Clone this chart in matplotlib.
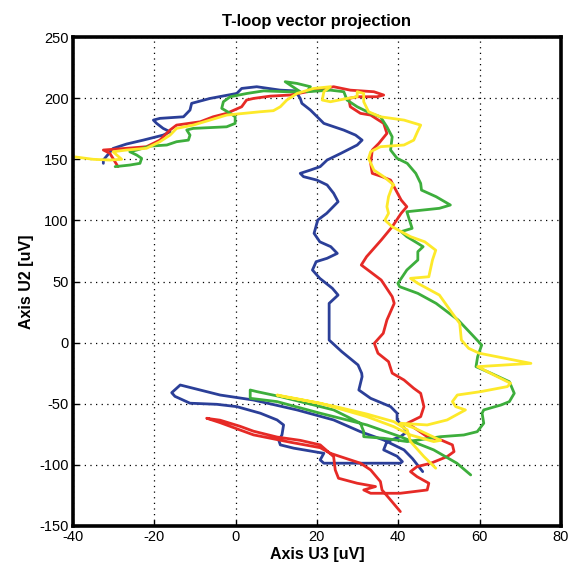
import matplotlib
matplotlib.use('Agg')
import matplotlib.pyplot as plt

# traces, in uV (U3 on x, U2 on y)
blue_x = [-32.5, -32.5, -30.1, -26.8, -22.7, -17.8, -16.1, -17.8, -19.4, -20.2, -18.6, -12.8,
          -11.2, -10.8, -6.3, 0.3, 1.5, 5.2, 11.0, 14.7, 15.9, 16.3, 18.4, 21.7, 26.6, 29.5,
          31.1, 29.9, 25.9, 22.5, 20.8, 18.4, 15.9, 16.7, 20.0, 22.5, 24.1, 25.2, 22.4, 20.2,
          19.3, 20.7, 23.4, 25.0, 22.5, 19.8, 18.9, 20.7, 23.8, 25.2, 23.0, 23.0, 23.0, 26.1,
          30.1, 31.0, 31.1, 30.3, 33.2, 38.1, 39.7, 39.7, 42.2, 40.5, 37.2, 36.4, 39.7, 41.0,
          40.5, 29.9, 21.7, 20.8, 21.7, 14.3, 11.0, 10.6, 11.4, 11.8, 10.2, 6.1, 0.3, -4.6,
          -11.2, -14.9, -15.7, -13.6, -3.8, 4.4, 15.1, 24.1, 30.7, 36.4, 41.4, 43.5, 46.0]
blue_y = [146.7, 149.4, 158.9, 162.5, 165.7, 169.8, 172.5, 175.3, 179.4, 182.1, 183.5, 184.8,
          190.3, 195.8, 199.8, 203.9, 208.0, 209.4, 206.6, 206.0, 199.8, 195.8, 190.3, 179.4,
          173.9, 169.8, 165.7, 161.7, 154.9, 149.4, 144.0, 141.2, 138.5, 135.8, 133.0, 129.0,
          122.2, 115.3, 105.8, 100.3, 89.4, 82.5, 78.5, 73.0, 69.0, 66.2, 59.4, 52.6, 44.4,
          38.9, 32.1, 21.2, 2.1, -7.4, -18.3, -25.1, -27.9, -38.8, -45.6, -52.4, -57.8, -63.3,
          -72.9, -77.0, -81.0, -87.8, -93.0, -97.4, -98.7, -98.7, -98.7, -96.0, -90.6, -86.4,
          -83.7, -79.7, -75.6, -67.4, -63.3, -57.8, -52.4, -50.5, -49.6, -44.0, -41.0, -34.7,
          -42.9, -47.0, -55.1, -63.3, -72.9, -79.7, -87.8, -95.0, -105.6]

red_x = [40.5, 38.1, 36.0, 35.6, 33.2, 30.7, 23.3, 20.8, 13.4, 4.4, 1.1, -3.8, -7.1, -6.0,
         -3.8, 1.1, 4.4, 10.2, 15.9, 20.8, 24.1, 24.5, 25.3, 29.9, 34.4, 31.5, 33.2, 40.5,
         47.1, 47.5, 44.6, 43.0, 44.6, 48.0, 52.0, 53.7, 53.3, 50.5, 47.1, 44.7, 42.2, 45.5,
         46.3, 45.5, 43.8, 41.4, 38.5, 37.6, 35.0, 34.1, 36.3, 37.2, 39.0, 38.5, 35.8, 33.1,
         30.9, 32.2, 35.8, 38.5, 40.7, 42.1, 40.7, 39.4, 38.1, 36.0, 33.6, 33.2, 33.6, 35.2,
         37.2, 36.4, 33.2, 30.7, 28.2, 27.8, 29.9, 34.8, 36.4, 34.0, 28.2, 24.1, 13.4, 8.5,
         4.4, 2.7, 1.5, -2.2, -5.5, -8.7, -14.5, -16.1, -18.6, -21.9, -26.8, -32.5, -30.9,
         -28.9]
red_y = [-138.3, -128.8, -120.6, -113.7, -104.2, -98.7, -90.6, -86.0, -81.5, -75.5, -71.5,
         -65.5, -61.9, -62.5, -63.5, -68.5, -72.5, -77.3, -80.0, -83.7, -93.3, -104.2, -111.0,
         -115.1, -117.8, -120.6, -123.3, -123.3, -120.6, -115.1, -109.7, -105.6, -101.5, -98.7,
         -93.3, -89.2, -83.7, -79.7, -77.0, -71.5, -66.0, -60.6, -52.4, -41.5, -37.4, -30.6,
         -25.0, -15.6, -8.7, -0.6, 7.6, 18.5, 32.1, 37.6, 51.2, 58.0, 63.5, 70.3, 83.9, 94.8,
         105.8, 111.2, 116.7, 124.8, 133.0, 135.8, 138.5, 146.7, 157.6, 163.0, 171.2, 179.4,
         186.2, 187.6, 193.0, 199.8, 201.2, 201.2, 202.6, 205.3, 206.6, 209.4, 202.6, 201.7,
         199.8, 198.5, 193.0, 187.6, 184.8, 180.7, 178.0, 174.0, 165.7, 160.3, 159.0, 157.6,
         154.9, 144.0]

green_x = [-29.6, -26.0, -23.5, -23.1, -24.3, -26.0, -24.3, -21.0, -16.9, -14.5, -11.6, -11.2,
           -12.0, -10.4, -2.2, -0.1, -0.1, -1.3, -3.4, -3.0, -1.3, 2.8, 6.9, 12.6, 15.9, 12.2,
           15.1, 18.4, 17.5, 23.3, 26.6, 27.4, 29.9, 33.2, 35.6, 37.2, 38.5, 38.1, 39.7, 42.2,
           44.3, 45.5, 45.7, 49.3, 52.8, 50.1, 42.1, 43.0, 43.4, 40.7, 42.1, 44.8, 46.1, 44.8,
           44.8, 42.1, 39.9, 40.3, 44.8, 49.3, 54.7, 58.2, 60.5, 59.5, 59.1, 62.8, 67.3, 68.5,
           67.3, 65.3, 61.0, 60.6, 61.0, 59.4, 56.1, 50.4, 42.2, 36.4, 31.5, 31.5, 30.7, 24.1,
           15.9, 11.0, 5.2, 3.6, 3.6, 10.2, 20.8, 32.3, 40.5, 48.7, 54.4, 57.8]
green_y = [144.0, 145.3, 146.7, 150.8, 153.5, 156.2, 157.6, 160.8, 161.7, 164.4, 165.7, 169.8,
           174.0, 175.3, 176.6, 179.4, 184.8, 187.6, 191.7, 197.1, 201.2, 203.9, 206.0, 205.3,
           205.3, 213.5, 212.1, 209.4, 205.3, 206.6, 205.3, 198.5, 193.0, 187.6, 184.8, 176.6,
           168.4, 157.6, 150.8, 146.7, 138.5, 130.3, 124.8, 119.4, 112.6, 109.9, 107.1, 97.6,
           93.5, 90.8, 86.7, 81.2, 78.5, 74.4, 67.6, 59.4, 48.5, 45.8, 40.3, 32.1, 18.5, 6.2,
           -2.0, -11.5, -19.7, -25.1, -32.0, -41.5, -48.3, -51.0, -55.1, -57.8, -66.0, -72.9,
           -75.6, -77.0, -81.0, -78.3, -77.0, -72.9, -66.0, -55.1, -48.3, -44.2, -40.1, -38.8,
           -45.6, -48.3, -57.8, -67.4, -77.0, -87.8, -98.7, -108.3]

yellow_x = [49.2, 46.3, 43.0, 42.2, 38.9, 32.3, 24.1, 15.9, 10.2, 11.8, 20.8, 32.3, 38.9, 43.0,
            48.7, 50.4, 44.0, 40.5, 47.1, 52.0, 56.5, 54.1, 53.3, 54.5, 60.3, 66.8, 67.6, 63.5,
            59.5, 72.6, 59.9, 57.3, 55.5, 55.1, 53.3, 50.1, 44.8, 43.0, 47.5, 48.4, 49.2, 46.5,
            43.0, 38.5, 36.7, 37.6, 37.2, 37.6, 38.5, 38.9, 36.4, 34.0, 32.7, 33.2, 35.6, 41.4,
            43.8, 44.7, 45.5, 41.4, 35.6, 32.7, 31.5, 31.5, 29.9, 29.9, 27.4, 23.3, 21.3, 21.7,
            23.3, 19.2, 15.1, 12.6, 11.0, 9.3, 6.0, -2.2, -6.3, -10.4, -14.5, -16.1, -18.6,
            -21.9, -26.8, -30.1, -29.2, -28.0, -30.9, -35.0, -40.0]
yellow_y = [-102.8, -93.3, -81.0, -71.5, -64.7, -58.5, -52.0, -46.5, -42.9, -44.2, -49.6, -60.6,
            -68.8, -75.6, -81.0, -80.0, -70.0, -66.0, -67.4, -63.3, -55.1, -52.4, -48.3, -42.9,
            -40.1, -36.0, -33.3, -26.5, -19.7, -17.0, -8.7, -4.7, 2.1, 15.7, 23.9, 38.9, 48.5,
            52.6, 53.9, 67.6, 75.6, 82.5, 86.7, 94.8, 100.3, 105.8, 111.2, 119.4, 127.6, 129.0,
            135.8, 141.2, 150.8, 156.2, 160.3, 161.7, 165.7, 172.5, 178.0, 182.1, 184.8, 188.9,
            197.1, 203.9, 205.3, 201.2, 199.8, 197.1, 198.5, 205.3, 209.4, 208.0, 203.9, 198.5,
            193.0, 189.8, 188.9, 186.2, 182.1, 178.0, 175.3, 169.8, 164.4, 159.0, 157.6, 156.2,
            153.5, 150.0, 149.4, 150.0, 152.2]

xticks = [-40, -20, 0, 20, 40, 60, 80]
yticks = [-150, -100, -50, 0, 50, 100, 150, 200, 250]

plt.rcParams['font.family'] = ['Liberation Sans', 'DejaVu Sans']
plt.rcParams['axes.unicode_minus'] = False

fig = plt.figure(figsize=(5.69, 5.71), dpi=100)
ax = fig.add_axes([0.128, 0.079, 0.858, 0.856])

lw = 2.0
for xs, ys, col in [(blue_x, blue_y, '#2b3f98'), (red_x, red_y, '#e62a26'),
                    (green_x, green_y, '#3dae3c'), (yellow_x, yellow_y, '#fde92a')]:
    ax.plot(xs, ys, color=col, lw=lw, solid_joinstyle='round', solid_capstyle='round')

ax.set_xlim(-40, 80)
ax.set_ylim(-150, 250)
ax.set_xticks(xticks)
ax.set_yticks(yticks)
ax.tick_params(direction='in', length=4, width=1, labelsize=10.5, colors='black', pad=3)
ax.grid(True, color='black', linestyle=(0, (1, 3.5)), linewidth=0.9)
for sp in ax.spines.values():
    sp.set_linewidth(2.6)

ax.set_title('T-loop vector projection', fontsize=12, fontweight='bold', pad=8)
ax.set_xlabel('Axis U3 [uV]', fontsize=11.5, fontweight='bold', labelpad=2)
ax.set_ylabel('Axis U2 [uV]', fontsize=11.5, fontweight='bold', labelpad=4)

fig.savefig('out.png', dpi=100)
